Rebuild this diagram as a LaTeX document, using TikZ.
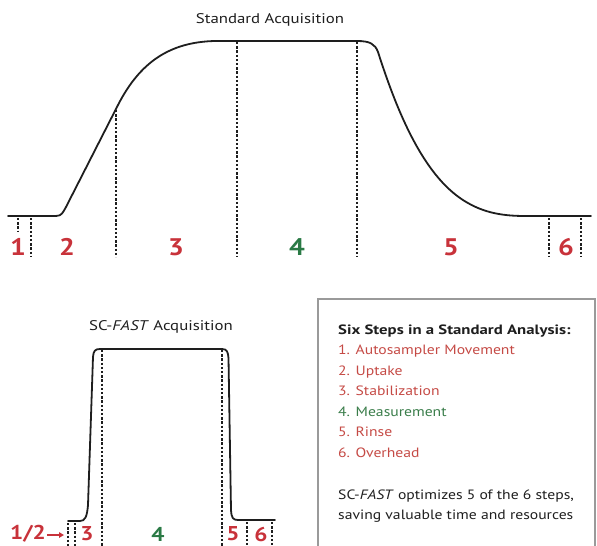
\documentclass[tikz,border=0pt]{standalone}
\usepackage{fontspec}
\setmainfont{PT Sans}[FakeStretch=1.16]
\newfontfamily\headfont{PT Sans}[FakeStretch=1.24]
\newfontfamily\titlefont{PT Sans}[FakeStretch=1.2]
\usetikzlibrary{arrows.meta}
\definecolor{lblred}{HTML}{C8323A}
\definecolor{lblgreen}{HTML}{2A7A45}
\definecolor{txtred}{HTML}{C54A45}
\definecolor{txtgreen}{HTML}{3A7D4A}
\definecolor{boxgray}{HTML}{9A9A9A}
\definecolor{ink}{HTML}{1E1E1E}
\begin{document}
\begin{tikzpicture}[x=1pt,y=-1pt,
  curve/.style={draw=ink, line width=1.8pt, line join=round, line cap=round},
  guide/.style={draw=ink, line width=1.6pt, dash pattern=on 2.4pt off 1.8pt},
  bignum/.style={font=\fontsize{24}{24}\selectfont\bfseries, inner sep=0pt},
  smallnum/.style={font=\fontsize{20}{20}\selectfont\bfseries, inner sep=0pt},
  redtxt/.style={text=lblred},
  greentxt/.style={text=lblgreen},
  plottitle/.style={font=\titlefont\fontsize{14}{14}\selectfont, text=ink, inner sep=0pt},
  boxline/.style={anchor=base west, inner sep=0pt, font=\fontsize{13.5}{13.5}\selectfont},
]
\useasboundingbox (0,0) rectangle (597,546);

% ---------- Standard acquisition ----------
\node[plottitle] (t1) at (270,20) {Standard Acquisition};
\draw[curve] (8,216) -- (56,216) .. controls (62,216) and (63,212) .. (66,207)
  -- (118,105) .. controls (140,62) and (170,42) .. (215,41) -- (357,41)
  .. controls (370,41) and (375,44) .. (378,52)
  .. controls (395,105) and (420,170) .. (460,198)
  .. controls (480,212) and (500,216) .. (525,216) -- (591,216);

\coordinate (a1t) at (18,218); \coordinate (a1b) at (18,231);
\coordinate (a2t) at (31,218); \coordinate (a2b) at (31,257);
\coordinate (a3t) at (116,110); \coordinate (a3b) at (116,257);
\coordinate (a4t) at (237,42); \coordinate (a4b) at (237,257);
\coordinate (a5t) at (357,42); \coordinate (a5b) at (357,257);
\coordinate (a6t) at (549,218); \coordinate (a6b) at (549,257);
\coordinate (a7t) at (581,218); \coordinate (a7b) at (581,257);
\foreach \i in {1,...,7} \draw[guide] (a\i t) -- (a\i b);

\node[bignum,redtxt] (n1) at (18,247) {1};
\node[bignum,redtxt] (n2) at (67,247) {2};
\node[bignum,redtxt] (n3) at (176,247) {3};
\node[bignum,greentxt] (n4) at (297,247) {4};
\node[bignum,redtxt] (n5) at (451,247) {5};
\node[bignum,redtxt] (n6) at (566,247) {6};

% ---------- SC-FAST acquisition ----------
\node[plottitle] (t2) at (161,327) {SC-\textit{FAST} Acquisition};
\draw[curve] (68,521) -- (80,521) .. controls (85,521) and (87,517) .. (88,505)
  -- (93,357) .. controls (93.5,351) and (95,349) .. (100,349) -- (222,349)
  .. controls (227,349) and (228,352) .. (228.5,358)
  -- (231,510) .. controls (231.5,518) and (233,520) .. (238,520) -- (275,520);

\coordinate (b1t) at (68,523); \coordinate (b1b) at (68,546);
\coordinate (b2t) at (75,523); \coordinate (b2b) at (75,546);
\coordinate (b3t) at (102,350); \coordinate (b3b) at (102,546);
\coordinate (b4t) at (222,350); \coordinate (b4b) at (222,546);
\coordinate (b5t) at (247,522); \coordinate (b5b) at (247,546);
\coordinate (b6t) at (272,522); \coordinate (b6b) at (272,546);
\foreach \i in {1,...,6} \draw[guide] (b\i t) -- (b\i b);

\node[smallnum,redtxt] (m12) at (28,534) {1/2};
\coordinate (arrs) at (47,535);
\coordinate (arre) at (64,535);
\draw[lblred, line width=1.3pt, -{Triangle[length=5pt,width=5.5pt]}] (arrs) -- (arre);
\node[smallnum,redtxt] (m3) at (87,534) {3};
\node[smallnum,greentxt] (m4) at (158,534) {4};
\node[smallnum,redtxt] (m5) at (233,534) {5};
\node[smallnum,redtxt] (m6) at (261,534) {6};

% ---------- Legend box ----------
\draw[boxgray, line width=1.5pt] (318,546) -- (318,299) -- (595,299) -- (595,546);
\node[boxline, text=ink, font=\headfont\fontsize{13.5}{13.5}\selectfont\bfseries] (h) at (338,334) {Six Steps in a Standard Analysis:};
\node[boxline, text=txtred] (s1) at (338,354.5) {1. Autosampler Movement};
\node[boxline, text=txtred] (s2) at (338,375) {2. Uptake};
\node[boxline, text=txtred] (s3) at (338,395.5) {3. Stabilization};
\node[boxline, text=txtgreen] (s4) at (338,416) {4. Measurement};
\node[boxline, text=txtred] (s5) at (338,436.5) {5. Rinse};
\node[boxline, text=txtred] (s6) at (338,457) {6. Overhead};
\node[boxline, text=ink] (f1) at (338,499) {SC-\textit{FAST} optimizes 5 of the 6 steps,};
\node[boxline, text=ink] (f2) at (338,519) {saving valuable time and resources};
\end{tikzpicture}
\end{document}
